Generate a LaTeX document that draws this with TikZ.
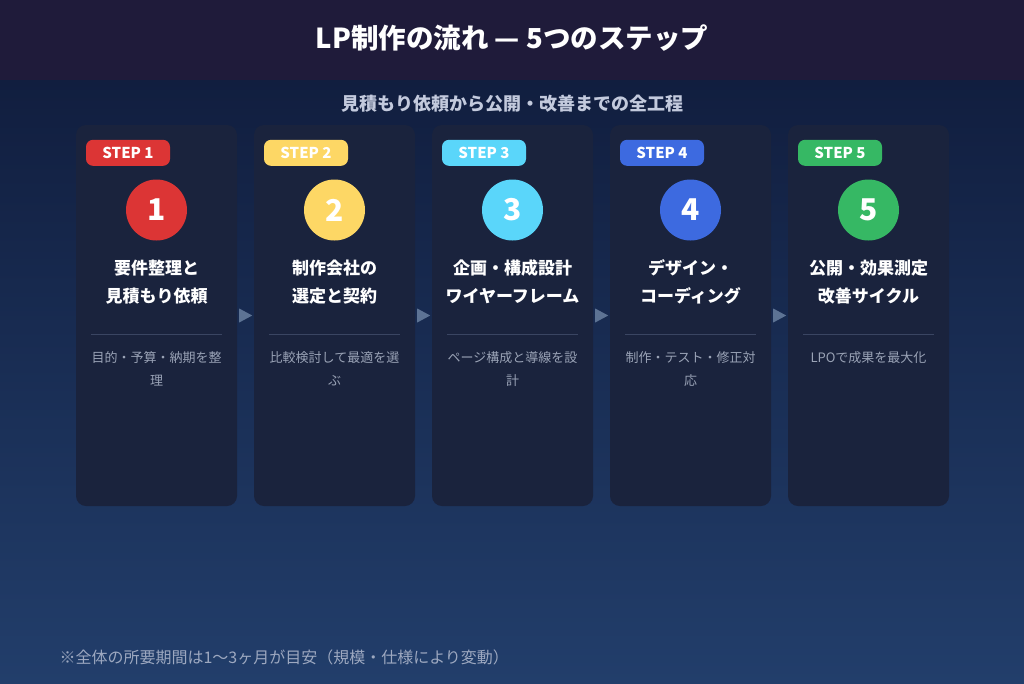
\documentclass[tikz,border=0pt]{standalone}
\usepackage{fontspec}
\setmainfont{Noto Sans CJK JP}
\usetikzlibrary{calc}
\definecolor{hdr}{HTML}{1F1B3A}
\definecolor{bgtop}{HTML}{111E3F}
\definecolor{bgbot}{HTML}{223E6B}
\definecolor{cardc}{HTML}{1A233D}
\definecolor{subc}{HTML}{C3CADD}
\definecolor{descc}{HTML}{9AA3B6}
\definecolor{divc}{HTML}{3A4562}
\definecolor{arrc}{HTML}{5D7394}
\definecolor{footc}{HTML}{9DA8C0}
\definecolor{s1}{HTML}{DC3535}
\definecolor{s2}{HTML}{FDD765}
\definecolor{s3}{HTML}{5AD6FA}
\definecolor{s4}{HTML}{3D6AE0}
\definecolor{s5}{HTML}{36B864}
\tikzset{
  card/.style={fill=cardc, rounded corners=10pt, minimum width=161pt, minimum height=381pt, inner sep=0pt},
  badge/.style={fill=#1, rounded corners=7pt, minimum width=84pt, minimum height=26pt, inner sep=0pt, text=white, font=\fontsize{15}{15}\selectfont\bfseries},
  numc/.style={circle, fill=#1, minimum size=61pt, inner sep=0pt, text=white, font=\fontsize{30}{30}\selectfont\bfseries},
  ctitle/.style={text=white, align=center, font=\fontsize{17}{28}\selectfont\bfseries},
  cdesc/.style={text=descc, align=center, font=\fontsize{13}{23}\selectfont},
  divline/.style={draw=divc, line width=1pt},
  arrtri/.style={fill=arrc}
}
\begin{document}
\begin{tikzpicture}[x=1pt,y=-1pt]
\useasboundingbox (0,0) rectangle (1024,683);
\shade[top color=bgtop, bottom color=bgbot] (0,80) rectangle (1024,683);
\fill[hdr] (0,0) rectangle (1024,80);
\node[text=white, font=\fontsize{27.5}{27.5}\selectfont\bfseries] (title) at (512,38) {LP制作の流れ — 5つのステップ};
\node[text=subc, font=\fontsize{18}{18}\selectfont\bfseries] (sub) at (512,104) {見積もり依頼から公開・改善までの全工程};
\foreach \i/\cx/\col/\ta/\tb/\da/\db in {
  1/156.5/s1/要件整理と/見積もり依頼/目的・予算・納期を整/理,
  2/334.5/s2/制作会社の/選定と契約/比較検討して最適を選/ぶ,
  3/512.5/s3/企画・構成設計/ワイヤーフレーム/ページ構成と導線を設/計,
  4/690.5/s4/デザイン・/コーディング/制作・テスト・修正対/応,
  5/868.5/s5/公開・効果測定/改善サイクル/LPOで成果を最大化/}{
  \node[card] (c\i) at (\cx,315.5) {};
  \node[badge=\col, anchor=west] (b\i) at ($(c\i.north west)+(10,28)$) {STEP \i};
  \node[numc=\col] (n\i) at (\cx,210) {\i};
  \node[ctitle] (t\i) at (\cx,282) {\ta\\\tb};
  \draw[divline] ($(c\i.north west)+(15,210)$) -- ($(c\i.north east)+(-15,210)$);
  \node[cdesc, anchor=north] (d\i) at (\cx,348) {\da\\\db};
}
\foreach \a/\b in {1/2,2/3,3/4,4/5}{
  \fill[arrtri] ($(c\a.east)+(2,-7)$) -- ($(c\a.east)+(15,0)$) -- ($(c\a.east)+(2,7)$) -- cycle;
}
\node[text=footc, font=\fontsize{16}{16}\selectfont, anchor=west] (foot) at (56,657) {※全体の所要期間は1〜3ヶ月が目安（規模・仕様により変動）};
\end{tikzpicture}
\end{document}
